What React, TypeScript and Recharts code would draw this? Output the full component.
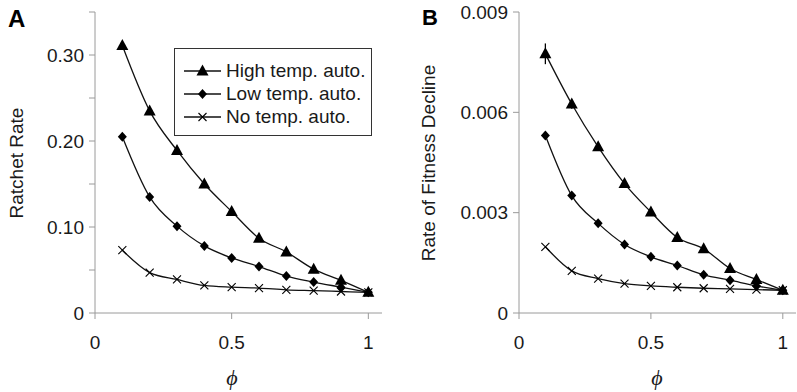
import { LineChart, Line, XAxis, YAxis, Legend, ErrorBar } from 'recharts';

const phi = [0.1, 0.2, 0.3, 0.4, 0.5, 0.6, 0.7, 0.8, 0.9, 1.0];

// panel A: ratchet rate
const highA = [0.311, 0.235, 0.189, 0.150, 0.118, 0.087, 0.071, 0.051, 0.038, 0.024];
const lowA = [0.205, 0.135, 0.101, 0.078, 0.064, 0.054, 0.043, 0.036, 0.030, 0.024];
const noneA = [0.073, 0.047, 0.039, 0.032, 0.030, 0.029, 0.027, 0.026, 0.025, 0.024];

// panel B: rate of fitness decline
const highB = [0.00775, 0.00625, 0.00497, 0.00387, 0.00302, 0.00226, 0.00192, 0.00133, 0.00100, 0.00068];
const highBErr = [0.00031, 0.00014, 0, 0, 0, 0, 0, 0, 0, 0];
const lowB = [0.00531, 0.00351, 0.00268, 0.00205, 0.00168, 0.00142, 0.00114, 0.00098, 0.00081, 0.00068];
const noneB = [0.00198, 0.00126, 0.00103, 0.00088, 0.00081, 0.00077, 0.00074, 0.00072, 0.00070, 0.00068];

const xTicks = [0, 0.5, 1];
const xTickLabels = ['0', '0.5', '1'];
const yTicksA = [0, 0.05, 0.1, 0.15, 0.2, 0.25, 0.3, 0.35];
const yTickLabelsA = ['0', '', '0.10', '', '0.20', '', '0.30', ''];
const yTicksB = [0, 0.003, 0.006, 0.009];
const yTickLabelsB = ['0', '0.003', '0.006', '0.009'];

const seriesNames = ['High temp. auto.', 'Low temp. auto.', 'No temp. auto.'];

const dataA = phi.map((p, i) => ({ phi: p, high: highA[i], low: lowA[i], none: noneA[i] }));
const dataB = phi.map((p, i) => ({ phi: p, high: highB[i], highErr: highBErr[i], low: lowB[i], none: noneB[i] }));

const FONT = '"Liberation Sans", Arial, sans-serif';
const INK = '#1a1a1a';
const AXIS = '#9a9a9a';

function Tri({ cx, cy }: any) {
  if (cx == null || cy == null) return null;
  return <path d={`M${cx},${cy - 6.5} L${cx + 6},${cy + 4.5} L${cx - 6},${cy + 4.5} Z`} fill="#000" />;
}

function Diamond({ cx, cy }: any) {
  if (cx == null || cy == null) return null;
  return <path d={`M${cx},${cy - 5} L${cx + 4.5},${cy} L${cx},${cy + 5} L${cx - 4.5},${cy} Z`} fill="#000" />;
}

function Cross({ cx, cy }: any) {
  if (cx == null || cy == null) return null;
  return (
    <path d={`M${cx - 4},${cy - 4} L${cx + 4},${cy + 4} M${cx - 4},${cy + 4} L${cx + 4},${cy - 4}`} stroke="#000" strokeWidth={1.1} fill="none" />
  );
}

const markers = [Tri, Diamond, Cross];

function LegendBox() {
  return (
    <div
      style={{
        border: '1px solid #333',
        background: '#fff',
        width: 198,
        boxSizing: 'border-box',
        padding: '10px 0 7px 9px',
        fontFamily: FONT,
        fontSize: 19,
        color: INK,
      }}
    >
      {seriesNames.map((name, i) => {
        const M = markers[i];
        return (
          <div key={name} style={{ display: 'flex', alignItems: 'center', height: 23 }}>
            <svg width={37} height={20} style={{ flexShrink: 0 }}>
              <line x1={0} y1={10} x2={37} y2={10} stroke="#111" strokeWidth={1.3} />
              <M cx={18.5} cy={10} />
            </svg>
            <span style={{ marginLeft: 5, whiteSpace: 'nowrap' }}>{name}</span>
          </div>
        );
      })}
    </div>
  );
}

const tickStyle = { fontFamily: FONT, fontSize: 19, fill: INK };

function yTitle(text: string, cx: number, cy: number) {
  return {
    content: () => (
      <text
        x={cx}
        y={cy}
        transform={`rotate(-90 ${cx} ${cy})`}
        textAnchor="middle"
        dominantBaseline="central"
        style={{ fontFamily: FONT, fontSize: 19, fill: INK }}
      >
        {text}
      </text>
    ),
  };
}

function xTitle(cx: number, cy: number) {
  return {
    content: () => (
      <text
        x={cx}
        y={cy}
        textAnchor="middle"
        dominantBaseline="central"
        style={{ fontFamily: '"Liberation Serif", "DejaVu Serif", serif', fontStyle: 'italic', fontSize: 22, fill: INK }}
      >
        ϕ
      </text>
    ),
  };
}

function Panel({ data, width, left, yTicks, yLabels, yTitleText, yTitleX, showLegend, withErr }: any) {
  return (
    <div style={{ position: 'absolute', left, top: 0 }}>
      <LineChart width={width} height={392} data={data} margin={{ top: 12, right: 18, bottom: 9, left: left === 0 ? 35 : 59 }}>
        <XAxis
          dataKey="phi"
          type="number"
          domain={[0, 1.05]}
          ticks={xTicks}
          tickFormatter={(v: number) => xTickLabels[xTicks.indexOf(v)] ?? ''}
          stroke={AXIS}
          tickLine={{ stroke: AXIS }}
          tickSize={6}
          tickMargin={17}
          tick={tickStyle}
          height={70}
          label={xTitle(left === 0 ? 232 : 257, 377)}
        />
        <YAxis
          type="number"
          domain={[yTicks[0], yTicks[yTicks.length - 1]]}
          ticks={yTicks}
          tickFormatter={(v: number) => yLabels[yTicks.indexOf(v)] ?? ''}
          stroke={AXIS}
          tickLine={{ stroke: AXIS }}
          tickSize={6}
          tickMargin={5}
          tick={tickStyle}
          width={60}
          interval={0}
          label={yTitle(yTitleText, yTitleX, 163)}
        />
        {showLegend && (
          <Legend
            layout="vertical"
            align="center"
            verticalAlign="middle"
            content={() => <LegendBox />}
            wrapperStyle={{ left: 174, top: 48, width: 198, height: 'auto' }}
          />
        )}
        <Line dataKey="none" type="monotone" stroke="#111" strokeWidth={1.3} dot={<Cross />} activeDot={false} isAnimationActive={false} />
        <Line dataKey="low" type="monotone" stroke="#111" strokeWidth={1.3} dot={<Diamond />} activeDot={false} isAnimationActive={false} />
        <Line dataKey="high" type="monotone" stroke="#111" strokeWidth={1.3} dot={<Tri />} activeDot={false} isAnimationActive={false}>
          {withErr && <ErrorBar dataKey="highErr" width={0} stroke="#000" strokeWidth={1.3} direction="y" />}
        </Line>
      </LineChart>
    </div>
  );
}

export default function App() {
  return (
    <div style={{ position: 'absolute', left: 0, top: 0, width: 797, height: 392, overflow: 'hidden', background: '#fff' }}>
      <Panel data={dataA} width={400} left={0} yTicks={yTicksA} yLabels={yTickLabelsA} yTitleText="Ratchet Rate" yTitleX={16} showLegend />
      <Panel data={dataB} width={414} left={400} yTicks={yTicksB} yLabels={yTickLabelsB} yTitleText="Rate of Fitness Decline" yTitleX={28} withErr />
      <svg width={797} height={40} style={{ position: 'absolute', left: 0, top: 0, pointerEvents: 'none' }}>
        <text x={8} y={27} style={{ fontFamily: FONT, fontWeight: 'bold', fontSize: 24, fill: '#000' }}>A</text>
        <text x={422} y={25} style={{ fontFamily: FONT, fontWeight: 'bold', fontSize: 22, fill: '#000' }}>B</text>
      </svg>
    </div>
  );
}
